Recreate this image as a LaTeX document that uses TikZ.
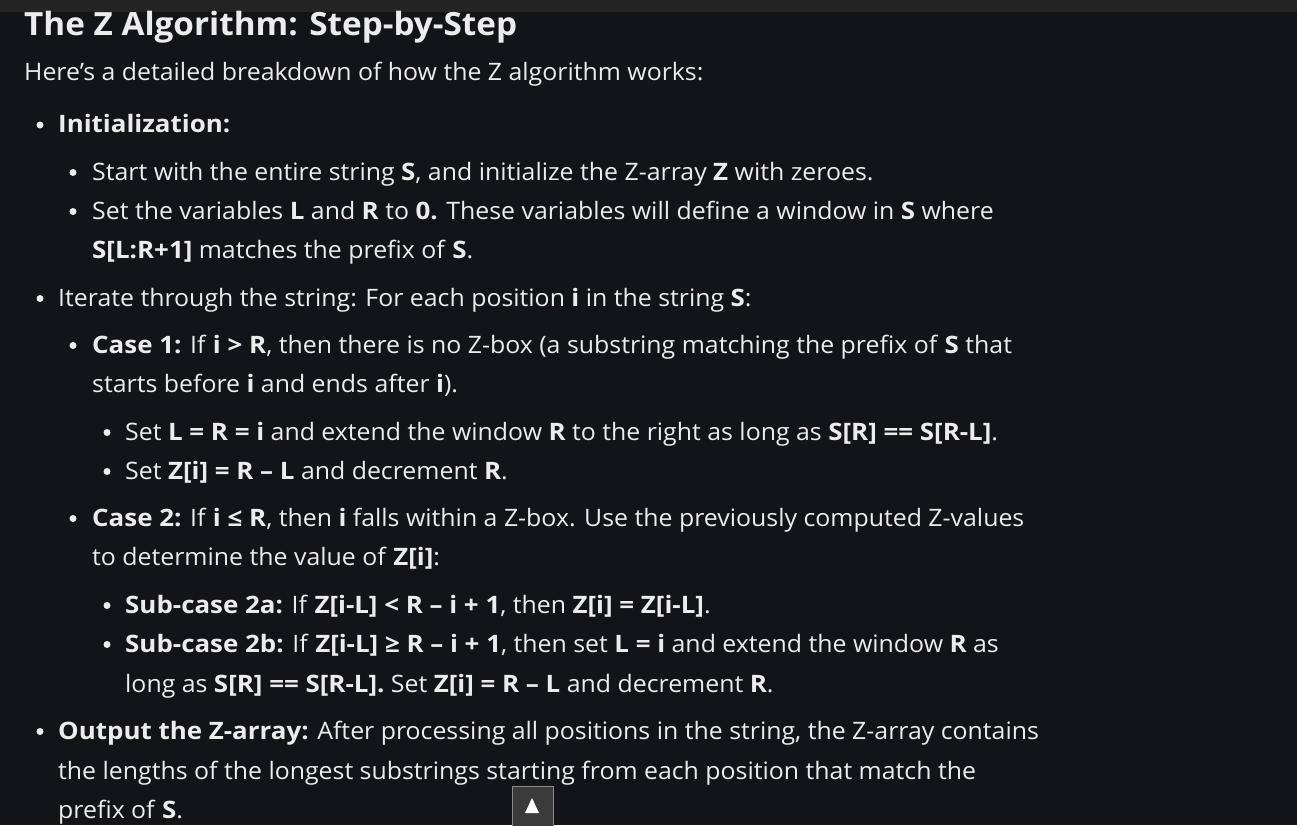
\documentclass[tikz,border=0pt]{standalone}
\usepackage{fontspec}
\setmainfont[FakeStretch=1.036,BoldFeatures={FakeStretch=1.08}]{Open Sans}
\newfontfamily\titlefont[FakeStretch=1.04]{Open Sans}
\definecolor{bgc}{HTML}{131417}
\definecolor{barc}{HTML}{242424}
\definecolor{txtc}{HTML}{ECECEC}
\definecolor{btnc}{HTML}{3B3B3B}
\definecolor{btnb}{HTML}{8A8A8A}
\begin{document}
\begin{tikzpicture}[x=1pt,y=-1pt,
  txt/.style={anchor=base west,inner sep=0pt,text=txtc,font=\fontsize{24}{29}\selectfont},
  ttl/.style={anchor=base west,inner sep=0pt,text=txtc,font=\titlefont\fontsize{32}{38}\selectfont\bfseries},
  bul/.style={fill=txtc}]
\useasboundingbox (0,0) rectangle (1297,825);
\fill[bgc] (0,0) rectangle (1297,825);
\fill[barc] (0,0) rectangle (1297,12);
\node[ttl] (title) at (24,35) {The Z Algorithm: Step-by-Step};
\node[txt] (intro) at (24,80.7) {Here’s a detailed breakdown of how the Z algorithm works:};
% level 1
\fill[bul] (40,125) circle (3.5);
\node[txt] (l1) at (58,132.7) {\textbf{Initialization:}};
\fill[bul] (73,172.5) circle (3.5);
\node[txt] (l2) at (92,180) {Start with the entire string \textbf{S}, and initialize the Z-array \textbf{Z} with zeroes.};
\fill[bul] (73,211.5) circle (3.5);
\node[txt] (l3) at (92,219) {Set the variables \textbf{L} and \textbf{R} to \textbf{0.} These variables will define a window in \textbf{S} where};
\node[txt] (l4) at (92,258) {\textbf{S[L:R+1]} matches the prefix of \textbf{S}.};
\fill[bul] (40,298.5) circle (3.5);
\node[txt] (l5) at (58,306) {Iterate through the string: For each position \textbf{i} in the string \textbf{S}:};
\fill[bul] (73,345.5) circle (3.5);
\node[txt] (l6) at (92,353) {\textbf{Case 1:} If \textbf{i > R}, then there is no Z-box (a substring matching the prefix of \textbf{S} that};
\node[txt] (l7) at (92,392) {starts before \textbf{i} and ends after \textbf{i}).};
\fill[bul] (107,432.5) circle (3.5);
\node[txt] (l8) at (125,440) {Set \textbf{L = R = i} and extend the window \textbf{R} to the right as long as \textbf{S[R] == S[R-L]}.};
\fill[bul] (107,471.5) circle (3.5);
\node[txt] (l9) at (125,479) {Set \textbf{Z[i] = R – L} and decrement \textbf{R}.};
\fill[bul] (73,518.5) circle (3.5);
\node[txt] (l10) at (92,526) {\textbf{Case 2:} If \textbf{i ≤ R}, then \textbf{i} falls within a Z-box. Use the previously computed Z-values};
\node[txt] (l11) at (92,565) {to determine the value of \textbf{Z[i]}:};
\fill[bul] (107,605.5) circle (3.5);
\node[txt] (l12) at (125,613) {\textbf{Sub-case 2a:} If \textbf{Z[i-L] < R – i + 1}, then \textbf{Z[i] = Z[i-L]}.};
\fill[bul] (107,644.5) circle (3.5);
\node[txt] (l13) at (125,652) {\textbf{Sub-case 2b:} If \textbf{Z[i-L] ≥ R – i + 1}, then set \textbf{L = i} and extend the window \textbf{R} as};
\node[txt] (l14) at (125,692) {long as \textbf{S[R] == S[R-L].} Set \textbf{Z[i] = R – L} and decrement \textbf{R}.};
\fill[bul] (40,731.5) circle (3.5);
\node[txt] (l15) at (58,739) {\textbf{Output the Z-array:} After processing all positions in the string, the Z-array contains};
\node[txt] (l16) at (58,779) {the lengths of the longest substrings starting from each position that match the};
\node[txt] (l17) at (58,818) {prefix of \textbf{S}.};
% scroll button
\node[draw=btnb,fill=btnc,line width=1pt,minimum width=41pt,minimum height=44pt,inner sep=0pt,anchor=north west] (btn) at (511.5,785.5) {};
\fill[white] (525,813) -- (539,813) -- (532,798) -- cycle;
\end{tikzpicture}
\end{document}
